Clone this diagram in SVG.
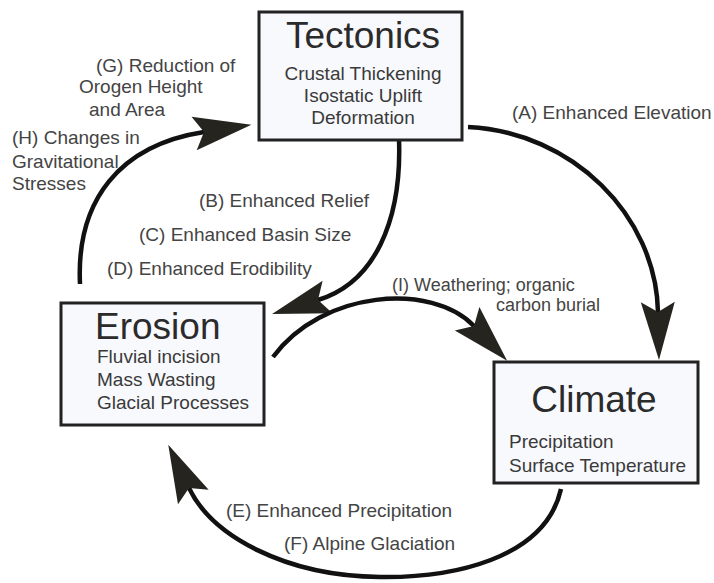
<svg xmlns="http://www.w3.org/2000/svg" width="714" height="583" viewBox="0 0 714 583">
<style>
.box{fill:#f8f9fd;stroke:#222;stroke-width:3}
.title{font-family:"Liberation Sans",Arial,sans-serif;font-size:37px;fill:#2b2b2b}
.sub{font-family:"Liberation Sans",Arial,sans-serif;font-size:19px;fill:#3a3a3a}
.lbl{font-family:"Liberation Sans",Arial,sans-serif;font-size:19px;fill:#444}
.conn{fill:none;stroke:#111;stroke-width:4.5;marker-end:url(#head)}
</style>
<defs>
<marker id="head" markerUnits="userSpaceOnUse" orient="auto" refX="0" refY="0" markerWidth="120" markerHeight="120" overflow="visible">
<path d="M48,0 L-10,-17 L0,0 L-10,17 Z" fill="#26241f"/>
</marker>
</defs>
<rect width="714" height="583" fill="#ffffff"/>
<g id="connectors">
<path id="edge-A" class="conn" d="M468,127 C572,132 656,215 658,312"/>
<path id="edge-B" class="conn" d="M399,139 C402,222 374,283 318,300"/>
<path id="edge-G" class="conn" d="M80,284 C76,200 120,145 204,132"/>
<path id="edge-I" class="conn" d="M273,357 C322,290 432,282 474,326"/>
<path id="edge-E" class="conn" d="M561,489 C545,560 450,578 380,577 C285,576 212,536 189,488"/>
</g>
<g id="node-tectonics">
<rect class="box" x="259" y="12" width="203" height="128"/>
<text class="title" x="363" y="48" text-anchor="middle">Tectonics</text>
<text class="sub" x="363" y="80" text-anchor="middle">Crustal Thickening</text>
<text class="sub" x="363" y="102" text-anchor="middle">Isostatic Uplift</text>
<text class="sub" x="363" y="124" text-anchor="middle">Deformation</text>
</g>
<g id="node-erosion">
<rect class="box" x="61" y="303" width="203" height="122"/>
<text class="title" x="95" y="339">Erosion</text>
<text class="sub" x="97" y="363">Fluvial incision</text>
<text class="sub" x="97" y="386">Mass Wasting</text>
<text class="sub" x="97" y="409">Glacial Processes</text>
</g>
<g id="node-climate">
<rect class="box" x="494" y="362" width="204" height="121"/>
<text class="title" x="594" y="412" text-anchor="middle">Climate</text>
<text class="sub" x="509" y="448">Precipitation</text>
<text class="sub" x="509" y="472">Surface Temperature</text>
</g>
<g id="labels">
<text class="lbl" x="512" y="119">(A) Enhanced Elevation</text>
<text class="lbl" x="199" y="207">(B) Enhanced Relief</text>
<text class="lbl" x="139" y="241">(C) Enhanced Basin Size</text>
<text class="lbl" x="107" y="275">(D) Enhanced Erodibility</text>
<text class="lbl" x="392" y="291" style="font-size:18px">(I) Weathering; organic</text>
<text class="lbl" x="496" y="311" style="font-size:18px">carbon burial</text>
<text class="lbl" x="226" y="517">(E) Enhanced Precipitation</text>
<text class="lbl" x="284" y="550">(F) Alpine Glaciation</text>
<text class="lbl" x="96" y="72">(G) Reduction of</text>
<text class="lbl" x="79" y="93">Orogen Height</text>
<text class="lbl" x="89" y="116">and Area</text>
<text class="lbl" x="12" y="144">(H) Changes in</text>
<text class="lbl" x="12" y="168">Gravitational</text>
<text class="lbl" x="12" y="190">Stresses</text>
</g>
</svg>
